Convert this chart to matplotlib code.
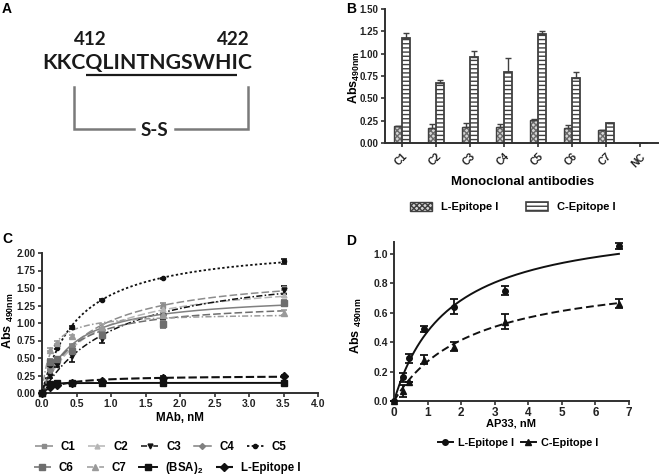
import numpy as np
import matplotlib
matplotlib.use('Agg')
import matplotlib.pyplot as plt
from matplotlib.lines import Line2D
from matplotlib.patches import Patch

# ---------------- data ----------------
# Panel B
b_categories = ['C1', 'C2', 'C3', 'C4', 'C5', 'C6', 'C7', 'NC']
b_lep = [0.19, 0.17, 0.18, 0.18, 0.26, 0.17, 0.14, 0.0]
b_lep_err = [0.005, 0.04, 0.04, 0.03, 0.005, 0.03, 0.005, 0.0]
b_cep = [1.18, 0.67, 0.96, 0.79, 1.22, 0.73, 0.22, 0.0]
b_cep_err = [0.05, 0.03, 0.07, 0.16, 0.03, 0.07, 0.005, 0.0]
b_yticks = [0.00, 0.25, 0.50, 0.75, 1.00, 1.25, 1.50]

# Panel C
c_x = [0, 0.11, 0.22, 0.44, 0.875, 1.75, 3.5]
c_names = ['C1', 'C2', 'C3', 'C4', 'C5', 'C6', 'C7', '(BSA)$_2$', 'L-Epitope I']
c_C1 = [0, 0.35, 0.47, 0.66, 0.88, 1.25, 1.50]
c_C2 = [0, 0.30, 0.45, 0.62, 0.86, 1.20, 1.40]
c_C3 = [0, 0.25, 0.40, 0.53, 0.77, 1.10, 1.47]
c_C4 = [0, 0.33, 0.48, 0.67, 0.90, 1.12, 1.28]
c_C5 = [0, 0.40, 0.65, 0.94, 1.33, 1.64, 1.88]
c_C6 = [0, 0.45, 0.48, 0.60, 0.83, 0.98, 1.29]
c_C7 = [0, 0.62, 0.72, 0.81, 0.95, 1.12, 1.15]
c_BSA = [0, 0.13, 0.14, 0.14, 0.14, 0.14, 0.15]
c_LEp = [0, 0.08, 0.12, 0.15, 0.17, 0.21, 0.25]
c_err_C1 = [0, 0.02, 0.02, 0.03, 0.03, 0.03, 0.03]
c_err_C2 = [0, 0.02, 0.02, 0.03, 0.03, 0.03, 0.03]
c_err_C3 = [0, 0.03, 0.03, 0.08, 0.05, 0.04, 0.06]
c_err_C4 = [0, 0.02, 0.02, 0.03, 0.03, 0.03, 0.03]
c_err_C5 = [0, 0.02, 0.02, 0.02, 0.02, 0.01, 0.03]
c_err_C6 = [0, 0.03, 0.03, 0.03, 0.04, 0.05, 0.04]
c_err_C7 = [0, 0.02, 0.02, 0.02, 0.03, 0.03, 0.03]
c_err_BSA = [0, 0.01, 0.01, 0.01, 0.01, 0.02, 0.01]
c_err_LEp = [0, 0.01, 0.01, 0.01, 0.02, 0.03, 0.01]

# Panel D
d_x = [0, 0.26, 0.45, 0.9, 1.8, 3.3, 6.7]
d_lep = [0, 0.16, 0.29, 0.49, 0.64, 0.75, 1.05]
d_lep_err = [0, 0.03, 0.03, 0.02, 0.05, 0.03, 0.02]
d_cep = [0, 0.07, 0.13, 0.28, 0.37, 0.54, 0.66]
d_cep_err = [0, 0.04, 0.0, 0.03, 0.03, 0.05, 0.03]

# Panel A
a_seq = 'KKCQLINTNGSWHIC'
a_start, a_end = '412', '422'

# ---------------- style ----------------
plt.rcParams['font.family'] = ['Liberation Sans', 'DejaVu Sans']
plt.rcParams['font.weight'] = 'bold'
plt.rcParams['mathtext.fontset'] = 'custom'
plt.rcParams['mathtext.rm'] = 'Liberation Sans:bold'
plt.rcParams['mathtext.bf'] = 'Liberation Sans:bold'
plt.rcParams['mathtext.it'] = 'Liberation Sans:bold'
plt.rcParams['mathtext.default'] = 'bf'
plt.rcParams['hatch.linewidth'] = 1.0

W, H = 660, 476
fig = plt.figure(figsize=(W / 100, H / 100), dpi=100)
AX_C = '#303030'


def ax_px(x0, y0, x1, y1):
    return fig.add_axes([x0 / W, 1 - y1 / H, (x1 - x0) / W, (y1 - y0) / H])


def ftext(x, y, s, **kw):
    return fig.text(x / W, 1 - y / H, s, **kw)


def style_axes(ax, tsize=7):
    for s in ['top', 'right']:
        ax.spines[s].set_visible(False)
    for s in ['left', 'bottom']:
        ax.spines[s].set_linewidth(1.4)
        ax.spines[s].set_color(AX_C)
    ax.tick_params(axis='both', width=1.2, length=3, color=AX_C, labelsize=tsize,
                   pad=1.5, labelcolor='#222222')


def fit_hyperbola(x, y):
    x = np.asarray(x, float)
    y = np.asarray(y, float)
    best = None
    for kd in np.logspace(-3, 1.3, 800):
        f = x / (kd + x)
        bmax = np.sum(y * f) / np.sum(f * f)
        r = np.sum((y - bmax * f) ** 2)
        if best is None or r < best[0]:
            best = (r, bmax, kd)
    return best[1], best[2]


# ---------------- Panel A ----------------
aa = ax_px(0, 0, 330, 230)
aa.set_xlim(0, 330)
aa.set_ylim(230, 0)
aa.axis('off')
afont = dict(family=['Lato', 'DejaVu Sans'], weight='bold', color='#1a1a1a')
SEQ_FS = 15.3
seq_x, seq_y = 42, 69
t_seq = aa.text(seq_x, seq_y, a_seq, fontsize=SEQ_FS, ha='left', va='baseline', **afont)
fig.canvas.draw()
r = fig.canvas.get_renderer()


def sub_width(s):
    t = aa.text(0, 0, s, fontsize=SEQ_FS, ha='left', va='baseline', **afont)
    w = t.get_window_extent(r).width
    t.remove()
    return w


scale = 330 / (aa.get_window_extent(r).width)
w3 = sub_width(a_seq[:3]) * scale
w14 = sub_width(a_seq[:14]) * scale
aa.plot([seq_x + w3 + 1, seq_x + w14 - 1], [74.5, 74.5], color='#1a1a1a', lw=1.6,
        solid_capstyle='butt')
aa.text(90, 45, a_start, fontsize=13.5, ha='center', va='baseline', **afont)
aa.text(233, 45, a_end, fontsize=13.5, ha='center', va='baseline', **afont)
gray = '#7a7a7a'
aa.plot([74, 74, 134], [87, 129, 129], color=gray, lw=1.8, solid_joinstyle='miter')
aa.plot([175, 248, 248], [129, 129, 87], color=gray, lw=1.8, solid_joinstyle='miter')
aa.text(154.5, 131, 'S-S', fontsize=13.5, ha='center', va='center', **afont)

# ---------------- Panel B ----------------
ab = ax_px(385, 9, 658, 143)
idx = np.arange(len(b_categories))
bw = 0.24
ab.bar(idx - 0.125, b_lep, bw, color='#d6d6d6', edgecolor='#6a6a6a', hatch='xxxxxx', linewidth=0)
ab.bar(idx - 0.125, b_lep, bw, fill=False, edgecolor='#404040', linewidth=1.0)
ab.bar(idx + 0.125, b_cep, bw, color='white', edgecolor='#404040', hatch='----', linewidth=0)
ab.bar(idx + 0.125, b_cep, bw, fill=False, edgecolor='#404040', linewidth=1.3)
zeros = np.zeros(len(idx))
ab.errorbar(idx - 0.125, b_lep, yerr=[zeros, b_lep_err], fmt='none', ecolor='#404040',
            elinewidth=1, capsize=2.5, capthick=1)
ab.errorbar(idx + 0.125, b_cep, yerr=[zeros, b_cep_err], fmt='none', ecolor='#404040',
            elinewidth=1, capsize=2.5, capthick=1)
ab.set_xlim(-0.5, 7.53)
ab.set_ylim(0, 1.5)
ab.set_yticks(b_yticks)
ab.set_yticklabels(['%.2f' % v for v in b_yticks])
ab.set_xticks(idx)
ab.set_xticklabels(b_categories, rotation=45, ha='right', rotation_mode='anchor')
style_axes(ab)
ab.tick_params(axis='x', labelsize=7.5, pad=3)
ftext(354, 78, 'Abs$_{490nm}$', rotation=90, ha='center', va='center', fontsize=9)
ftext(523, 182, 'Monoclonal antibodies', ha='center', va='center', fontsize=9.5)
hb = [Patch(facecolor='#d6d6d6', edgecolor='#404040', hatch='xxxxxx', lw=1),
      Patch(facecolor='white', edgecolor='#404040', hatch='----', lw=1.2)]
fig.legend(hb, ['L-Epitope I', 'C-Epitope I'], loc='center', ncol=2,
           bbox_to_anchor=(513 / W, 1 - 207 / H), frameon=False, fontsize=8,
           handlelength=2.0, handleheight=0.9, columnspacing=2.5, handletextpad=0.8)

# ---------------- Panel C ----------------
ac = ax_px(42, 253, 318, 393)
ac.set_xlim(0, 4)
ac.set_ylim(0, 2)
c_series = [c_C1, c_C2, c_C3, c_C4, c_C5, c_C6, c_C7, c_BSA, c_LEp]
c_errs = [c_err_C1, c_err_C2, c_err_C3, c_err_C4, c_err_C5, c_err_C6, c_err_C7, c_err_BSA, c_err_LEp]
c_colors = ['#8c8c8c', '#b5b5b5', '#111111', '#808080', '#111111', '#6e6e6e', '#9a9a9a', '#111111', '#111111']
c_ls = [(0, (5, 2)), (0, (5, 2)), (0, (4, 1.5, 1, 1.5)), '-', (0, (1.3, 1.3)),
        (0, (5, 2)), (0, (4, 1.5, 1, 1.5)), '-', (0, (4, 1.5))]
c_mk = ['s', '^', 'v', 'D', 'o', 's', '^', 's', 'D']
c_ms = [3.2, 3.5, 3.5, 3, 3, 5, 4.5, 4.5, 4.5]
c_lw = [1.1, 1.1, 1.1, 1.1, 1.3, 1.1, 1.1, 1.4, 1.5]
xs = np.linspace(0, 3.5, 300)
handles = []
for ys, es, col, ls, mk, ms, lw in zip(c_series, c_errs, c_colors, c_ls, c_mk, c_ms, c_lw):
    bmax, kd = fit_hyperbola(c_x, ys)
    ac.plot(xs, bmax * xs / (kd + xs), color=col, ls=ls, lw=lw, clip_on=False)
    ac.errorbar(c_x, ys, yerr=es, fmt=mk, color=col, ms=ms, elinewidth=1.2,
                capsize=2, capthick=1.2, clip_on=False, zorder=3)
    handles.append(Line2D([], [], color=col, ls=ls, lw=lw, marker=mk, ms=min(ms, 4.5)))
ac.set_xticks(np.arange(0, 4.01, 0.5))
ac.set_xticklabels(['%.1f' % v for v in np.arange(0, 4.01, 0.5)])
ac.set_yticks(np.arange(0, 2.01, 0.25))
ac.set_yticklabels(['%.2f' % v for v in np.arange(0, 2.01, 0.25)])
style_axes(ac)
ac.tick_params(axis='x', labelsize=7.5)
ftext(8, 321, 'Abs $_{490nm}$', rotation=90, ha='center', va='center', fontsize=9)
ftext(180, 418, 'MAb, nM', ha='center', va='center', fontsize=8.3)
fig.legend(handles[:5], c_names[:5], loc='center', ncol=5,
           bbox_to_anchor=(161 / W, 1 - 447 / H), frameon=False, fontsize=8.3,
           handlelength=1.5, columnspacing=1.1, handletextpad=0.7)
fig.legend(handles[5:], c_names[5:], loc='center', ncol=4,
           bbox_to_anchor=(167 / W, 1 - 468 / H), frameon=False, fontsize=8.3,
           handlelength=1.5, columnspacing=1.1, handletextpad=0.7)

# ---------------- Panel D ----------------
ad = ax_px(394, 242, 629, 401)
ad.set_xlim(0, 7)
ad.set_ylim(0, 1.08)
xd = np.linspace(0, 6.7, 300)
b1, k1 = fit_hyperbola(d_x, d_lep)
b2, k2 = fit_hyperbola(d_x, d_cep)
ad.plot(xd, b1 * xd / (k1 + xd), color='#111111', lw=1.4, clip_on=False)
ad.plot(xd, b2 * xd / (k2 + xd), color='#111111', lw=1.4, ls=(0, (4, 2)), clip_on=False)
ad.errorbar(d_x, d_lep, yerr=d_lep_err, fmt='o', color='#111111', ms=4, elinewidth=1.3,
            capsize=3, capthick=1.3, clip_on=False, zorder=3)
ad.errorbar(d_x, d_cep, yerr=d_cep_err, fmt='^', color='#111111', ms=4, elinewidth=1.3,
            capsize=3, capthick=1.3, clip_on=False, zorder=3)
ad.set_xticks(range(8))
ad.set_yticks(np.arange(0, 1.01, 0.2))
ad.set_yticklabels(['%.1f' % v for v in np.arange(0, 1.01, 0.2)])
style_axes(ad, tsize=7.5)
ad.tick_params(axis='x', labelsize=8.5)
ftext(356, 326, 'Abs $_{490nm}$', rotation=90, ha='center', va='center', fontsize=9)
ftext(511, 423, 'AP33, nM', ha='center', va='center', fontsize=8)
hd = [Line2D([], [], color='#111111', lw=1.4, marker='o', ms=4),
      Line2D([], [], color='#111111', lw=1.4, marker='^', ms=4)]
fig.legend(hd, ['L-Epitope I', 'C-Epitope I'], loc='center', ncol=2,
           bbox_to_anchor=(518 / W, 1 - 443 / H), frameon=False, fontsize=7.8,
           handlelength=1.4, columnspacing=0.6, handletextpad=0.5)

# ---------------- panel letters ----------------
for (px, py, s) in [(2, 2, 'A'), (346, 2, 'B'), (2, 232, 'C'), (346, 234, 'D')]:
    ftext(px, py, s, ha='left', va='top', fontsize=10)

fig.savefig('out.png', dpi=100)
